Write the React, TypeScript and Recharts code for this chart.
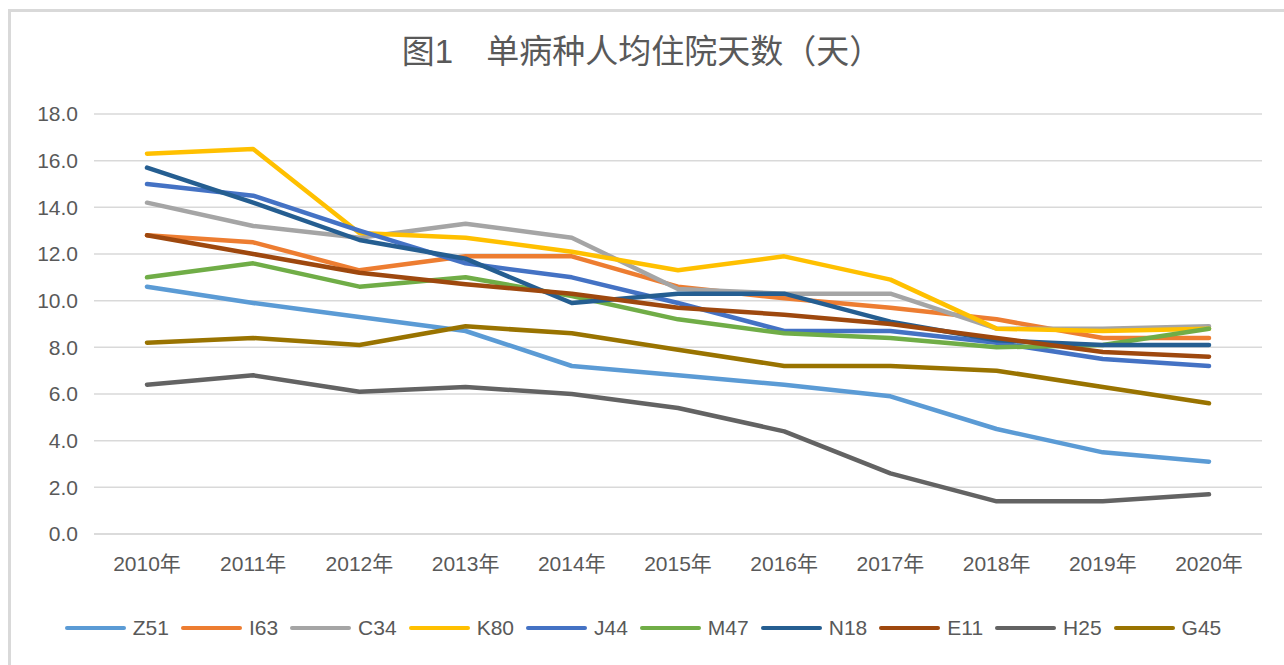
import React from "react";
import {
  LineChart,
  Line,
  XAxis,
  YAxis,
  CartesianGrid,
  Legend,
} from "recharts";

/* ========================================
   图1 单病种人均住院天数（天）
========================================= */
const years = [
  "2010年", "2011年", "2012年", "2013年", "2014年", "2015年",
  "2016年", "2017年", "2018年", "2019年", "2020年",
];

const z51 = [10.6, 9.9, 9.3, 8.7, 7.2, 6.8, 6.4, 5.9, 4.5, 3.5, 3.1];
const i63 = [12.8, 12.5, 11.3, 11.9, 11.9, 10.6, 10.1, 9.7, 9.2, 8.4, 8.4];
const c34 = [14.2, 13.2, 12.7, 13.3, 12.7, 10.5, 10.3, 10.3, 8.8, 8.8, 8.9];
const k80 = [16.3, 16.5, 12.9, 12.7, 12.1, 11.3, 11.9, 10.9, 8.8, 8.7, 8.8];
const j44 = [15.0, 14.5, 13.0, 11.6, 11.0, 9.9, 8.7, 8.7, 8.2, 7.5, 7.2];
const m47 = [11.0, 11.6, 10.6, 11.0, 10.2, 9.2, 8.6, 8.4, 8.0, 8.1, 8.8];
const n18 = [15.7, 14.2, 12.6, 11.8, 9.9, 10.3, 10.3, 9.1, 8.3, 8.1, 8.1];
const e11 = [12.8, 12.0, 11.2, 10.7, 10.3, 9.7, 9.4, 9.0, 8.4, 7.8, 7.6];
const h25 = [6.4, 6.8, 6.1, 6.3, 6.0, 5.4, 4.4, 2.6, 1.4, 1.4, 1.7];
const g45 = [8.2, 8.4, 8.1, 8.9, 8.6, 7.9, 7.2, 7.2, 7.0, 6.3, 5.6];

const yTicks = [0, 2, 4, 6, 8, 10, 12, 14, 16, 18];

const series = [
  { key: "Z51", values: z51, color: "#5B9BD5" },
  { key: "I63", values: i63, color: "#ED7D31" },
  { key: "C34", values: c34, color: "#A5A5A5" },
  { key: "K80", values: k80, color: "#FFC000" },
  { key: "J44", values: j44, color: "#4472C4" },
  { key: "M47", values: m47, color: "#70AD47" },
  { key: "N18", values: n18, color: "#255E91" },
  { key: "E11", values: e11, color: "#9E480E" },
  { key: "H25", values: h25, color: "#636363" },
  { key: "G45", values: g45, color: "#997300" },
];
const order = series.map((s) => s.key);

// tabla para recharts: una fila por año
const data = years.map((year, i) => {
  const row: Record<string, any> = { year };
  series.forEach((s) => {
    row[s.key] = s.values[i];
  });
  return row;
});

const FONT = "'Liberation Sans', 'Noto Sans CJK SC', sans-serif";
const TEXT = "#595959";

const renderLegend = (props: any) => {
  // mismo orden que las series (recharts ordena por nombre)
  const items = [...(props.payload || [])].sort(
    (a: any, b: any) => order.indexOf(a.value) - order.indexOf(b.value)
  );
  return (
    <div
      style={{
        display: "flex",
        justifyContent: "center",
        alignItems: "center",
        height: 30,
        paddingLeft: 36,
        fontFamily: FONT,
        fontSize: 21,
        color: TEXT,
      }}
    >
      {items.map((entry: any) => (
        <div
          key={entry.value}
          style={{ display: "flex", alignItems: "center", marginRight: 12 }}
        >
          <span
            style={{
              display: "inline-block",
              width: 61,
              height: 4,
              borderRadius: 2,
              background: entry.color,
              marginRight: 7,
            }}
          />
          <span>{entry.value}</span>
        </div>
      ))}
    </div>
  );
};

const App: React.FC = () => {
  return (
    <div
      style={{
        position: "fixed",
        left: 0,
        top: 0,
        width: 1284,
        height: 665,
        background: "#fff",
        overflow: "hidden",
      }}
    >
      {/* marco gris */}
      <div
        style={{
          position: "absolute",
          left: 8,
          top: 9,
          right: -10,
          bottom: -10,
          borderTop: "3px solid #d9d9d9",
          borderLeft: "3px solid #d9d9d9",
        }}
      />
      <div
        style={{
          position: "absolute",
          top: 34,
          left: 0,
          width: 1284,
          textAlign: "center",
          fontFamily: FONT,
          fontSize: 33,
          lineHeight: "35px",
          color: TEXT,
        }}
      >
        图1　单病种人均住院天数（天）
      </div>
      <div style={{ position: "absolute", left: 0, top: 0 }}>
        <LineChart
          width={1284}
          height={665}
          data={data}
          margin={{ top: 114, right: 22, left: 0, bottom: 22 }}
        >
          <CartesianGrid
            vertical={false}
            stroke="#d9d9d9"
            strokeWidth={1.5}
          />
          <XAxis
            dataKey="year"
            height={79}
            padding={{ left: 53, right: 53 }}
            axisLine={{ stroke: "#d9d9d9", strokeWidth: 1.5 }}
            tickLine={false}
            tickSize={0}
            tickMargin={22}
            interval={0}
            tick={{ fill: TEXT, fontSize: 21, fontFamily: FONT }}
          />
          <YAxis
            width={94}
            domain={[0, 18]}
            ticks={yTicks}
            interval={0}
            axisLine={false}
            tickLine={false}
            tickSize={0}
            tickMargin={16}
            tickFormatter={(v: number) => v.toFixed(1)}
            tick={{ fill: TEXT, fontSize: 21, fontFamily: FONT }}
          />
          <Legend verticalAlign="bottom" content={renderLegend} />
          {series.map((s) => (
            <Line
              key={s.key}
              type="linear"
              dataKey={s.key}
              name={s.key}
              stroke={s.color}
              strokeWidth={4.5}
              strokeLinecap="round"
              strokeLinejoin="round"
              dot={false}
              activeDot={false}
              isAnimationActive={false}
            />
          ))}
        </LineChart>
      </div>
    </div>
  );
};

export default App;
